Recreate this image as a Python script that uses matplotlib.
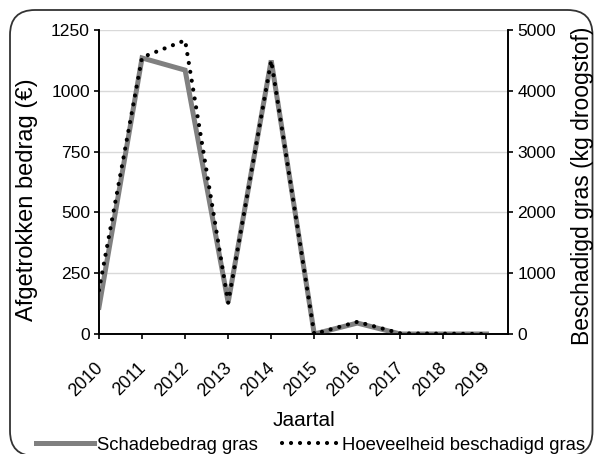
import matplotlib
matplotlib.use("Agg")
import matplotlib.pyplot as plt
from matplotlib.patches import FancyBboxPatch
from matplotlib.transforms import ScaledTranslation

years = [2010, 2011, 2012, 2013, 2014, 2015, 2016, 2017, 2018, 2019]
schadebedrag = [110, 1135, 1085, 130, 1125, 0, 45, 0, 0, 0]
hoeveelheid = [720, 4550, 4830, 515, 4500, 0, 200, 10, 5, 0]
left_ticks = [0, 250, 500, 750, 1000, 1250]
right_ticks = [0, 1000, 2000, 3000, 4000, 5000]

plt.rcParams['font.family'] = ['Liberation Sans', 'DejaVu Sans']

W, H = 594, 454
fig = plt.figure(figsize=(W / 100, H / 100), dpi=100)

# rounded chart-area border
box = FancyBboxPatch((10 / 100, -2 / 100), 582.5 / 100, (456 - 10) / 100,
                     boxstyle="round,pad=0,rounding_size=0.25",
                     transform=fig.dpi_scale_trans, fill=False,
                     edgecolor='#333333', linewidth=1.3, clip_on=False)
fig.patches.append(box)

ax = fig.add_axes([99 / W, 1 - 334 / H, (508 - 99) / W, (334 - 30) / H])
ax2 = ax.twinx()

ax.set_xlim(2010, 2019.5)
ax.set_ylim(0, 1250)
ax2.set_ylim(0, 5000)
ax.set_yticks(left_ticks)
ax2.set_yticks(right_ticks)
ax.set_xticks(years)
ax.set_xticklabels([str(y) for y in years], rotation=45, ha='right',
                   rotation_mode='anchor')

ax.grid(axis='y', color='#d9d9d9', linewidth=1.0)
ax.set_axisbelow(True)

for a in (ax, ax2):
    a.spines['top'].set_visible(False)
    for s in ('left', 'right', 'bottom'):
        a.spines[s].set_color('black')
        a.spines[s].set_linewidth(1.2)
ax.tick_params(axis='y', labelsize=12.6, length=3.6, width=1.2, colors='black', pad=3)
ax.tick_params(axis='x', labelsize=13, length=3.6, width=1.2, colors='black', pad=9)
ax2.tick_params(axis='y', labelsize=12.6, length=3.6, width=1.2, colors='black', pad=3)

offset = ScaledTranslation(-5 / 100, -8 / 100, fig.dpi_scale_trans)
for lab in ax.get_xticklabels():
    lab.set_transform(lab.get_transform() + offset)

l1, = ax.plot(years, schadebedrag, color='#808080', linewidth=3.6,
              solid_joinstyle='miter', zorder=3)
l2, = ax2.plot(years, hoeveelheid, color='black', linewidth=3.0,
               linestyle=(0, (0.01, 2.15)), dash_capstyle='round', zorder=4)

fig.text(27 / W, 1 - 200 / H, 'Afgetrokken bedrag (€)', fontsize=17,
         rotation=90, ha='center', va='center')
fig.text(583 / W, 1 - 186 / H, 'Beschadigd gras (kg droogstof)', fontsize=16.5,
         rotation=90, ha='center', va='center')
fig.text(304 / W, 1 - 420 / H, 'Jaartal', fontsize=15, ha='center', va='center')

fig.legend([l1, l2], ['Schadebedrag gras', 'Hoeveelheid beschadigd gras'],
           loc='center', bbox_to_anchor=(311 / W, 1 - 445 / H), ncol=2,
           frameon=False, fontsize=13.3, handlelength=3.1, handletextpad=0.15,
           columnspacing=1.35, borderpad=0, borderaxespad=0)

fig.savefig('out.png', dpi=100)
